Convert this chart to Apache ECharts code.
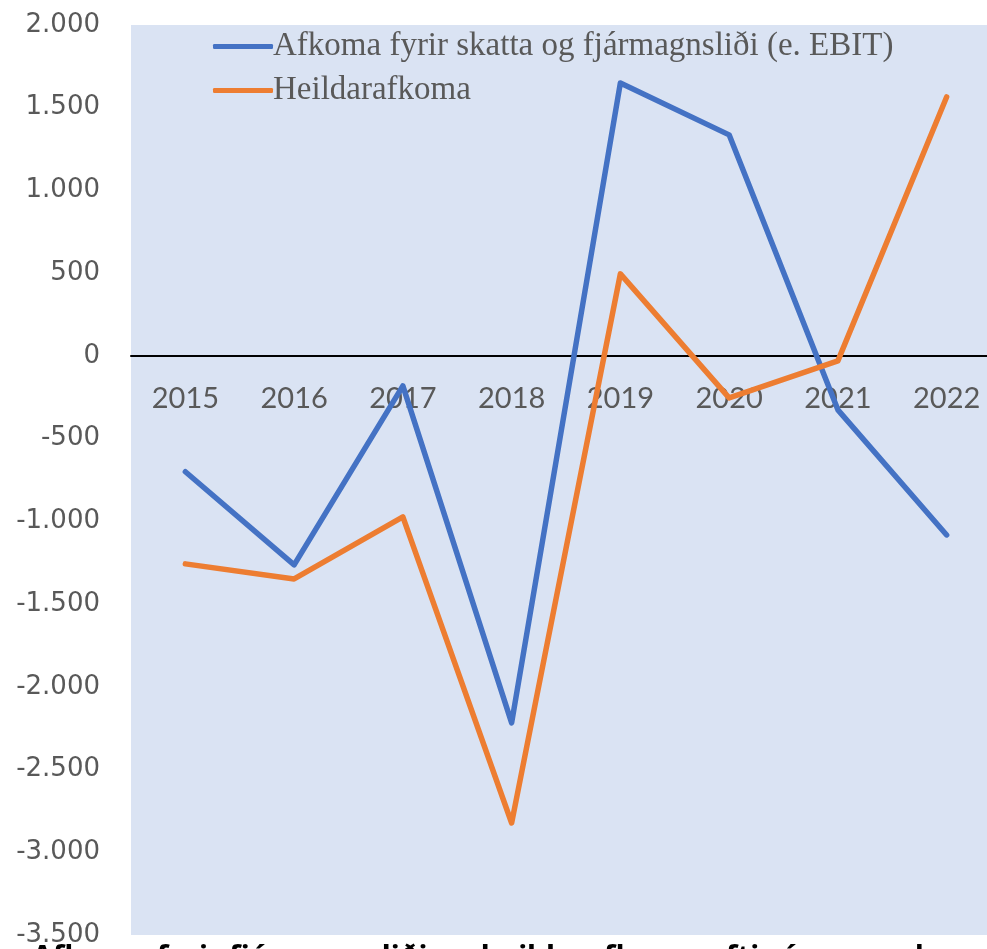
<!DOCTYPE html>
<html>
<head>
<meta charset="utf-8">
<script src="https://cdn.jsdelivr.net/npm/echarts@6/dist/echarts.min.js"></script>
<style>
  html, body { margin: 0; padding: 0; background: #fff; }
  #main { width: 987px; height: 949px; }
</style>
</head>
<body>
<div id="main"></div>
<script>
var years = ['2015', '2016', '2017', '2018', '2019', '2020', '2021', '2022'];
var ebit = [-700, -1263, -181, -2218, 1650, 1336, -326, -1082];
var heild = [-1257, -1348, -973, -2823, 496, -254, -30, 1565];
var seriesNames = ['Afkoma fyrir skatta og fjármagnsliði (e. EBIT)', 'Heildarafkoma'];
var yMin = -3500, yMax = 2000;

var gridTop = 25, gridBottom = 14;
var gridHeight = 949 - gridTop - gridBottom;
// distance of the zero line above the bottom of the plot area
var zeroOffset = gridHeight * (0 - yMin) / (yMax - yMin);

var chart = echarts.init(document.getElementById('main'));

function fmt(v) {
  var s = String(Math.abs(v)).replace(/\B(?=(\d{3})+(?!\d))/g, '.');
  return (v < 0 ? '-' : '') + s;
}

var option = {
  backgroundColor: '#fff',
  animation: false,
  grid: {
    left: 131,
    top: gridTop,
    width: 870,
    bottom: gridBottom,
    outerBoundsMode: 'none',
    containLabel: false,
    show: true,
    backgroundColor: '#DAE3F3',
    borderWidth: 0
  },
  legend: {
    orient: 'vertical',
    left: 208,
    top: 25,
    itemGap: 11,
    itemWidth: 60,
    itemHeight: 5,
    icon: 'roundRect',
    textStyle: {
      fontFamily: 'Liberation Serif',
      fontSize: 33,
      color: '#595959',
      padding: [0, 0, 0, -5]
    },
    data: seriesNames
  },
  xAxis: {
    type: 'category',
    data: years,
    boundaryGap: true,
    offset: -zeroOffset,
    axisLine: { onZero: false, lineStyle: { color: '#000', width: 2 } },
    axisTick: { show: false },
    axisLabel: {
      margin: 28,
      fontFamily: 'Lato',
      fontSize: 29,
      color: '#595959'
    }
  },
  yAxis: {
    type: 'value',
    min: yMin,
    max: yMax,
    interval: 500,
    splitLine: { show: false },
    axisLine: { show: false },
    axisTick: { show: false },
    axisLabel: {
      margin: 31,
      fontFamily: 'DejaVu Sans',
      fontSize: 26,
      color: '#595959',
      formatter: fmt
    }
  },
  series: [
    {
      name: seriesNames[0],
      type: 'line',
      data: ebit,
      symbol: 'none',
      lineStyle: { color: '#4472C4', width: 5.5, cap: 'round', join: 'round' },
      itemStyle: { color: '#4472C4' }
    },
    {
      name: seriesNames[1],
      type: 'line',
      data: heild,
      symbol: 'none',
      lineStyle: { color: '#ED7D31', width: 5.5, cap: 'round', join: 'round' },
      itemStyle: { color: '#ED7D31' }
    }
  ],
  graphic: [
    {
      type: 'text',
      left: 32,
      top: 943,
      z: 100,
      style: {
        text: 'Afkoma fyrir fjármagnsliði og heildarafkoma eftir árum, m.kr.',
        font: 'bold 30px "Noto Sans"',
        fill: '#000'
      }
    }
  ]
};

chart.setOption(option);
</script>
</body>
</html>
